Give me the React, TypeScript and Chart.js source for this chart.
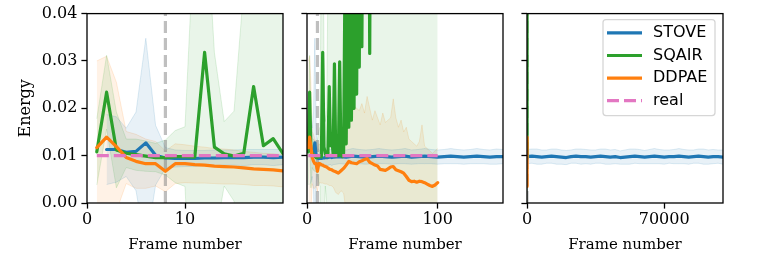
import React, { useEffect, useRef } from 'react';
import { Chart, registerables } from 'chart.js';

Chart.register(...registerables);

// ---------------- data ----------------
const seriesNames = ['STOVE', 'SQAIR', 'DDPAE', 'real'];

const stoveFrames = [
  2, 3, 4, 5, 6, 7, 8, 9, 10, 11, 12, 13, 14, 15, 16, 17, 18, 19, 20,
  25, 30, 35, 40, 45, 50, 55, 60, 65, 70, 75, 80, 85, 90, 95, 100, 105, 110, 115, 120, 125, 130, 135, 140, 145, 150,
  2500, 5000, 7500, 10000, 12500, 15000, 17500, 20000, 22500, 25000, 27500, 30000, 32500, 35000, 37500, 40000,
  42500, 45000, 47500, 50000, 52500, 55000, 57500, 60000, 62500, 65000, 67500, 70000, 72500, 75000, 77500, 80000,
  82500, 85000, 87500, 90000, 92500, 95000, 97500, 100000,
];
const stoveMean = [
  0.0113, 0.0113, 0.0107, 0.0109, 0.0127, 0.0101, 0.0095, 0.0094, 0.0094, 0.0094, 0.0095, 0.0095, 0.0096, 0.0096, 0.0096, 0.0097, 0.0097, 0.0096, 0.0097,
  0.0098, 0.0097, 0.0099, 0.0098, 0.0097, 0.0098, 0.0099, 0.0098, 0.0097, 0.0098, 0.0099, 0.0097, 0.0098, 0.0099, 0.0098, 0.0097, 0.0098, 0.0099, 0.0098, 0.0097, 0.0098, 0.0099, 0.0098, 0.0097, 0.0098, 0.0098,
  0.0099, 0.0098, 0.0097, 0.0098, 0.0099, 0.0098, 0.0097, 0.0096, 0.0098, 0.0099, 0.0098, 0.0098, 0.0097, 0.0098, 0.0099, 0.0098,
  0.0097, 0.0098, 0.0096, 0.0097, 0.0098, 0.0099, 0.0098, 0.0097, 0.0098, 0.0099, 0.0098, 0.0097, 0.0098, 0.0098, 0.0099, 0.0098,
  0.0097, 0.0098, 0.0099, 0.0098, 0.0097, 0.0098, 0.0098, 0.0097,
];
const stoveStd = [
  0.0074, 0.0069, 0.0051, 0.0083, 0.0221, 0.0063, 0.0022, 0.0018, 0.0017, 0.0017, 0.0016, 0.0017, 0.0016, 0.0016, 0.0017, 0.0016, 0.0016, 0.0017, 0.0016,
  0.0015, 0.0015, 0.0016, 0.0015, 0.0015, 0.0015, 0.0016, 0.0015, 0.0015, 0.0015, 0.0016, 0.0015, 0.0015, 0.0016, 0.0015, 0.0015, 0.0015, 0.0016, 0.0015, 0.0015, 0.0015, 0.0016, 0.0015, 0.0015, 0.0016, 0.0015,
  0.0015, 0.0016, 0.0015, 0.0014, 0.0015, 0.0016, 0.0015, 0.0015, 0.0014, 0.0015, 0.0016, 0.0015, 0.0015, 0.0014, 0.0015, 0.0016,
  0.0015, 0.0015, 0.0014, 0.0015, 0.0016, 0.0015, 0.0015, 0.0014, 0.0015, 0.0016, 0.0015, 0.0015, 0.0014, 0.0015, 0.0016, 0.0015,
  0.0015, 0.0014, 0.0015, 0.0016, 0.0015, 0.0015, 0.0014, 0.0015,
];

const sqairFrames = [
  1, 2, 3, 4, 5, 6, 7, 8, 9, 10, 11, 12, 13, 14, 15, 16, 17, 18, 19, 20,
  21, 22, 23, 24, 25, 26, 27, 28, 29, 30, 31, 32, 33, 34, 35, 36, 37, 38, 39, 40, 41, 42, 43, 44, 45, 46, 47, 48, 49, 50,
  55, 60, 65, 70, 75, 80, 85, 90, 95, 100,
];
const sqairMean = [
  0.0108, 0.0234, 0.0112, 0.0105, 0.0102, 0.0099, 0.0096, 0.0096, 0.0098, 0.0098, 0.0097, 0.0318, 0.0118, 0.0104, 0.0099, 0.0105, 0.0246, 0.0121, 0.0136, 0.0104,
  0.0294, 0.0099, 0.0102, 0.0100, 0.0298, 0.0101, 0.0098, 0.0105, 0.0450, 0.0125, 0.0520, 0.0160, 0.0600, 0.0175, 0.0650, 0.0200, 0.0700, 0.0230, 0.0750, 0.0287,
  0.0800, 0.0330, 0.0850, 0.0600, 0.0900, 0.0750, 0.0950, 0.0316, 0.1000, 0.1100,
  0.12, 0.14, 0.13, 0.16, 0.15, 0.18, 0.17, 0.2, 0.19, 0.22,
];
const sqairStd = [
  0.0070, 0.0078, 0.0080, 0.0030, 0.0033, 0.0032, 0.0030, 0.0037, 0.0055, 0.0063, 0.0500, 0.0350, 0.0200, 0.0068, 0.0095, 0.0350, 0.0500, 0.0500, 0.0500, 0.0500,
  0.060, 0.055, 0.058, 0.062, 0.065, 0.060, 0.058, 0.063, 0.070, 0.066, 0.072, 0.068, 0.075, 0.070, 0.078, 0.074, 0.080, 0.076, 0.085, 0.080,
  0.088, 0.084, 0.090, 0.095, 0.100, 0.098, 0.105, 0.090, 0.110, 0.115,
  0.13, 0.15, 0.14, 0.17, 0.16, 0.19, 0.18, 0.21, 0.2, 0.23,
];

const ddpaeFrames = [
  1, 2, 3, 4, 5, 6, 7, 8, 9, 10, 11, 12, 13, 14, 15, 16, 17, 18, 19, 20,
  22, 24, 26, 28, 30, 32, 34, 36, 38, 40, 42, 44, 46, 48, 50, 52, 54, 56, 58, 60,
  62, 64, 66, 68, 70, 72, 74, 76, 78, 80, 82, 84, 86, 88, 90, 92, 94, 96, 98, 100,
];
const ddpaeMean = [
  0.0117, 0.0139, 0.0119, 0.0096, 0.0088, 0.0083, 0.0083, 0.0067, 0.0083, 0.0083, 0.0081, 0.0080, 0.0078, 0.0077, 0.0076, 0.0074, 0.0072, 0.0071, 0.0070, 0.0068,
  0.0066, 0.0063, 0.0068, 0.0073, 0.0080, 0.0088, 0.0085, 0.0084, 0.0083, 0.0087, 0.0089, 0.0092, 0.0094, 0.0086, 0.0083, 0.0080, 0.0078, 0.0071, 0.0070, 0.0069,
  0.0072, 0.0076, 0.0077, 0.0070, 0.0068, 0.0066, 0.0063, 0.0056, 0.0048, 0.0045, 0.0046, 0.0044, 0.0046, 0.0045, 0.0043, 0.0040, 0.0037, 0.0035, 0.0038, 0.0043,
];
const ddpaeStd = [
  0.0183, 0.0171, 0.0136, 0.0055, 0.0057, 0.0052, 0.0047, 0.0043, 0.0042, 0.0040, 0.0039, 0.0038, 0.0037, 0.0037, 0.0036, 0.0035, 0.0035, 0.0034, 0.0034, 0.0034,
  0.0044, 0.0045, 0.0042, 0.0052, 0.0100, 0.0102, 0.0100, 0.0121, 0.0117, 0.0108, 0.0121, 0.0098, 0.0131, 0.0114, 0.0092, 0.0115, 0.0102, 0.0094, 0.0120, 0.0101,
  0.0103, 0.0104, 0.0143, 0.0110, 0.0092, 0.0109, 0.0087, 0.0104, 0.0087, 0.0085, 0.0079, 0.0076, 0.0084, 0.0120, 0.0077, 0.0075, 0.0073, 0.0070, 0.0072, 0.0072,
];

const realFrames = [1, 100];
const realValue = [0.01, 0.01];
const markerFrame = 8;

const yTicks = [0, 0.01, 0.02, 0.03, 0.04];
const xLimits = [20, 150, 100000];
const xTickSets = [[0, 10], [0, 100], [0, 70000]];

// ---------------- styling / layout ----------------
const COL = {
  stove: '#1f77b4',
  sqair: '#2ca02c',
  ddpae: '#ff7f0e',
  real: '#e377c2',
  marker: 'rgba(127,127,127,0.5)',
};
const SERIF = '"DejaVu Serif", serif';
const SANS = '"DejaVu Sans", sans-serif';
const H = 254;
const layouts = [
  { left: 0, width: 295, axisW: 87, padRight: 12, labels: true },
  { left: 295, width: 220, axisW: 12, padRight: 12, labels: false },
  { left: 515, width: 246, axisW: 12, padRight: 38, labels: false },
];

function rgba(hex: string, a: number) {
  const n = parseInt(hex.slice(1), 16);
  return `rgba(${(n >> 16) & 255},${(n >> 8) & 255},${n & 255},${a})`;
}
const pts = (xs: number[], ys: number[]) => xs.map((x, i) => ({ x, y: ys[i] }));
const shifted = (xs: number[], m: number[], s: number[], k: number) =>
  xs.map((x, i) => ({ x, y: m[i] + k * s[i] }));

function bandPair(xs: number[], m: number[], s: number[], color: string) {
  const common = {
    borderColor: rgba(color, 0.14),
    backgroundColor: rgba(color, 0.1),
    borderWidth: 1,
    pointRadius: 0,
    order: 10,
  };
  return [
    { ...common, label: '_hi', data: shifted(xs, m, s, 1), fill: '+1' },
    { ...common, label: '_lo', data: shifted(xs, m, s, -1), fill: false },
  ];
}

function lineDs(label: string, data: any[], color: string, order: number, dash: number[] = []) {
  return {
    label,
    data,
    borderColor: color,
    backgroundColor: color,
    borderWidth: 3.2,
    borderDash: dash,
    borderJoinStyle: 'round' as const,
    borderCapStyle: dash.length ? ('butt' as const) : ('round' as const),
    pointRadius: 0,
    fill: false,
    order,
  };
}

function buildDatasets() {
  return [
    ...bandPair(stoveFrames, stoveMean, stoveStd, COL.stove),
    ...bandPair(sqairFrames, sqairMean, sqairStd, COL.sqair),
    ...bandPair(ddpaeFrames, ddpaeMean, ddpaeStd, COL.ddpae),
    lineDs('_marker', [{ x: markerFrame, y: yTicks[0] }, { x: markerFrame, y: yTicks[yTicks.length - 1] }], COL.marker, 6, [12, 5]),
    lineDs(seriesNames[0], pts(stoveFrames, stoveMean), COL.stove, 4),
    lineDs(seriesNames[1], pts(sqairFrames, sqairMean), COL.sqair, 3),
    lineDs(seriesNames[2], pts(ddpaeFrames, ddpaeMean), COL.ddpae, 2),
    lineDs(seriesNames[3], pts(realFrames, realValue), COL.real, 1, [12, 5]),
  ];
}

const framePlugin = {
  id: 'frame',
  afterDraw(chart: any) {
    const { ctx, chartArea: a } = chart;
    ctx.save();
    ctx.strokeStyle = '#000';
    ctx.lineWidth = 1.3;
    ctx.strokeRect(a.left, a.top, a.right - a.left, a.bottom - a.top);
    ctx.restore();
  },
};

const legendPlugin = {
  id: 'boxLegend',
  afterDraw(chart: any) {
    const { ctx, chartArea: a } = chart;
    const items = [
      { label: seriesNames[0], color: COL.stove, dash: [] as number[] },
      { label: seriesNames[1], color: COL.sqair, dash: [] as number[] },
      { label: seriesNames[2], color: COL.ddpae, dash: [] as number[] },
      { label: seriesNames[3], color: COL.real, dash: [12, 5] },
    ];
    const w = 112;
    const h = 96;
    const x0 = a.right - 8 - w;
    const y0 = a.top + 6;
    const r = 3;
    ctx.save();
    ctx.beginPath();
    ctx.moveTo(x0 + r, y0);
    ctx.arcTo(x0 + w, y0, x0 + w, y0 + h, r);
    ctx.arcTo(x0 + w, y0 + h, x0, y0 + h, r);
    ctx.arcTo(x0, y0 + h, x0, y0, r);
    ctx.arcTo(x0, y0, x0 + w, y0, r);
    ctx.closePath();
    ctx.fillStyle = 'rgba(255,255,255,0.8)';
    ctx.fill();
    ctx.strokeStyle = 'rgba(204,204,204,0.8)';
    ctx.lineWidth = 1.3;
    ctx.stroke();
    items.forEach((it, i) => {
      const cy = y0 + 13.3 + i * 22.6;
      ctx.beginPath();
      ctx.setLineDash(it.dash);
      ctx.strokeStyle = it.color;
      ctx.lineWidth = 3.2;
      ctx.lineCap = 'butt';
      ctx.moveTo(x0 + 4, cy);
      ctx.lineTo(x0 + 39, cy);
      ctx.stroke();
      ctx.setLineDash([]);
      ctx.fillStyle = '#000';
      ctx.font = `16px ${SANS}`;
      ctx.textAlign = 'left';
      ctx.textBaseline = 'middle';
      ctx.fillText(it.label, x0 + 50, cy);
    });
    ctx.restore();
  },
};

function Panel({ idx }: { idx: number }) {
  const ref = useRef<HTMLCanvasElement>(null);
  const lay = layouts[idx];
  useEffect(() => {
    const tickFont = { family: SERIF, size: 16 };
    const xTitleFont = { family: SERIF, size: 15 };
    const chart = new Chart(ref.current as HTMLCanvasElement, {
      type: 'line',
      data: { datasets: buildDatasets() as any },
      options: {
        responsive: false,
        animation: false,
        devicePixelRatio: 1,
        layout: { padding: { left: 0, right: lay.padRight, top: 13, bottom: 0 } },
        plugins: { legend: { display: false }, tooltip: { enabled: false } },
        elements: { point: { radius: 0 }, line: { tension: 0 } },
        scales: {
          x: {
            type: 'linear',
            min: 0,
            max: xLimits[idx],
            afterBuildTicks: (s: any) => {
              s.ticks = xTickSets[idx].map((v) => ({ value: v }));
            },
            afterFit: (s: any) => {
              s.height = 51;
            },
            ticks: {
              callback: (v: any) => String(v),
              font: tickFont,
              color: '#000',
              padding: 2,
              maxRotation: 0,
              autoSkip: false,
            },
            grid: { display: true, drawOnChartArea: false, drawTicks: true, tickLength: 5.6, tickWidth: 1.3, tickColor: '#000' },
            border: { display: false },
            title: { display: true, text: 'Frame number', font: xTitleFont, color: '#000', padding: { top: 0, bottom: 0 } },
          },
          y: {
            type: 'linear',
            min: yTicks[0],
            max: yTicks[yTicks.length - 1],
            afterBuildTicks: (s: any) => {
              s.ticks = yTicks.map((v) => ({ value: v }));
            },
            afterFit: (s: any) => {
              s.width = lay.axisW;
            },
            ticks: {
              callback: (v: any) => (lay.labels ? Number(v).toFixed(2) : ''),
              font: tickFont,
              color: '#000',
              padding: 4,
            },
            grid: { display: true, drawOnChartArea: false, drawTicks: true, tickLength: 5.6, tickWidth: 1.3, tickColor: '#000' },
            border: { display: false },
            title: { display: lay.labels, text: 'Energy', font: tickFont, color: '#000', padding: { top: 16, bottom: 0 } },
          },
        },
      } as any,
      plugins: idx === 2 ? [framePlugin, legendPlugin] : [framePlugin],
    });
    return () => chart.destroy();
  }, []);
  return (
    <canvas
      ref={ref}
      width={lay.width}
      height={H}
      style={{ position: 'absolute', left: lay.left, top: 0, width: lay.width, height: H }}
    />
  );
}

export default function App() {
  return (
    <div style={{ position: 'absolute', left: 0, top: 0, width: 761, height: H, background: '#fff', overflow: 'hidden' }}>
      <Panel idx={0} />
      <Panel idx={1} />
      <Panel idx={2} />
    </div>
  );
}
